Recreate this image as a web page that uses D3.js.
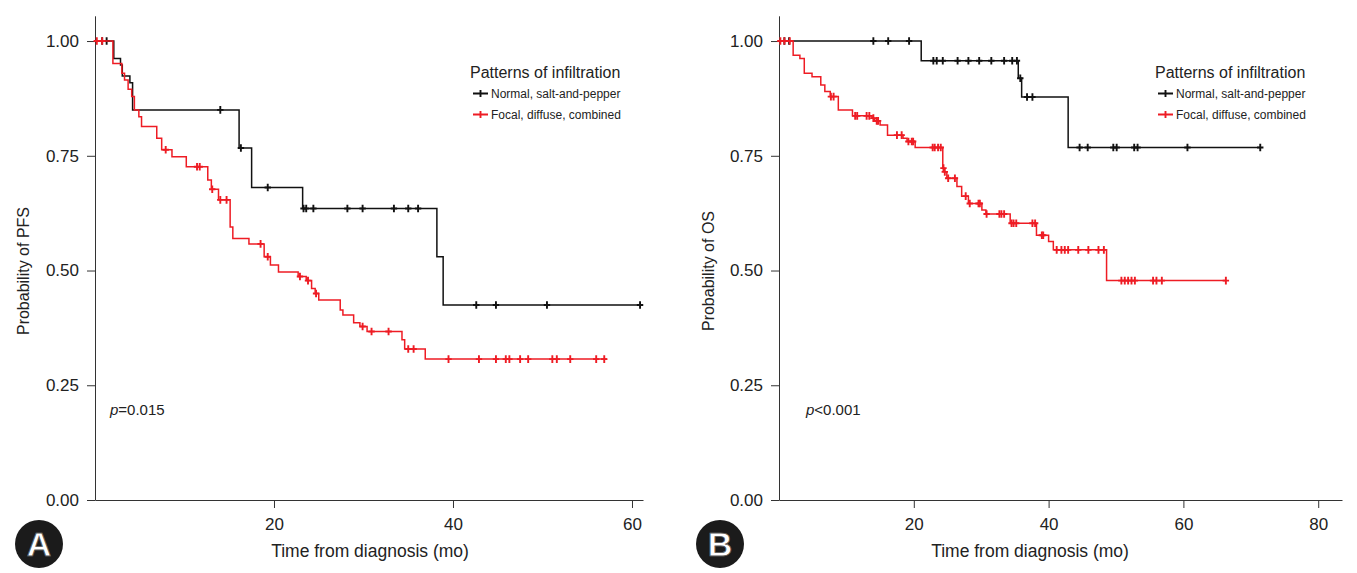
<!DOCTYPE html>
<html>
<head>
<meta charset="utf-8">
<script src="https://cdn.jsdelivr.net/npm/d3@7"></script>
<style>
body { margin: 0; background: #fff; }
svg { display: block; }
text { font-family: "Liberation Sans", Arial, sans-serif; fill: #222; }
</style>
</head>
<body>
<svg id="chart" width="1357" height="573"></svg>
<script>
"use strict";
(function() {

const BLACK = "#111111"
const RED = "#ee1c24"

// Panel A, PFS
const pfsNormalTimes = [2.1, 2.85, 3.05, 3.9, 4.2, 16.1, 17.5, 23.2, 38.2, 38.9]
const pfsNormalSurv  = [0.962, 0.948, 0.924, 0.909, 0.850, 0.767, 0.681, 0.635, 0.530, 0.425]
const pfsNormalEnd = 60.9
const pfsNormalCens = [0.8, 1.3, 14.0, 16.3, 19.3, 23.3, 23.6, 24.4, 28.2, 29.9, 33.4, 35.0, 36.1,
                       42.6, 44.8, 50.5, 60.9]

const pfsFocalTimes = [2.0, 3.0, 3.3, 3.7, 4.1, 4.4, 4.9, 5.2, 6.9, 7.45, 8.6, 10.2, 12.6, 13.0, 13.8,
                       15.1, 15.4, 17.2, 18.9, 19.6, 20.5, 22.7, 23.6, 24.2, 24.6, 25.0, 27.4, 27.7,
                       28.9, 29.6, 30.4, 34.3, 34.6, 36.9]
const pfsFocalSurv  = [0.951, 0.930, 0.915, 0.895, 0.879, 0.850, 0.835, 0.814, 0.788, 0.763, 0.748,
                       0.726, 0.697, 0.677, 0.654, 0.595, 0.570, 0.558, 0.530, 0.512, 0.497, 0.487,
                       0.478, 0.461, 0.450, 0.436, 0.414, 0.403, 0.386, 0.378, 0.367, 0.349, 0.329,
                       0.307]
const pfsFocalEnd = 57.2
const pfsFocalCens = [0.2, 0.8, 7.9, 11.4, 11.7, 13.1, 14.0, 14.7, 18.5, 19.3, 22.9, 23.8, 24.7,
                      29.9, 30.9, 32.8, 35.0, 35.6, 39.5, 42.9, 44.8, 45.9, 46.3, 47.5, 48.4, 51.1,
                      51.6, 53.1, 56.0, 56.9]

// Panel B, OS
const osNormalTimes = [21.1, 35.5, 36.0, 42.9]
const osNormalSurv  = [0.957, 0.919, 0.878, 0.768]
const osNormalEnd = 71.4
const osNormalCens = [0.8, 1.5, 14.0, 16.2, 19.3, 22.9, 23.4, 24.3, 26.5, 28.1, 29.7, 31.5, 33.4,
                      34.6, 35.3, 35.8, 36.8, 37.6, 44.6, 45.8, 49.6, 50.1, 52.7, 53.2, 60.6, 71.4]

const osFocalTimes = [2.1, 3.1, 3.75, 4.9, 6.2, 6.8, 7.6, 8.8, 10.9, 13.8, 14.2, 15.0, 16.1, 18.4,
                      19.0, 20.2, 24.3, 24.5, 24.9, 26.4, 27.1, 28.1, 30.1, 30.7, 34.3, 38.2, 40.0,
                      40.7, 48.6]
const osFocalSurv  = [0.969, 0.962, 0.930, 0.922, 0.904, 0.890, 0.879, 0.850, 0.837, 0.832, 0.826,
                      0.817, 0.795, 0.788, 0.781, 0.768, 0.723, 0.715, 0.701, 0.683, 0.662, 0.646,
                      0.632, 0.623, 0.603, 0.577, 0.563, 0.545, 0.478]
const osFocalEnd = 66.3
const osFocalCens = [0.2, 0.8, 1.6, 7.7, 8.1, 11.3, 11.6, 13.0, 13.4, 14.0, 14.5, 14.7, 17.5, 18.2,
                     19.2, 19.7, 19.9, 22.8, 23.1, 23.6, 24.0, 24.4, 24.6, 25.1, 26.1, 27.7, 28.3,
                     29.6, 29.8, 30.8, 32.7, 33.0, 33.4, 34.5, 34.8, 35.2, 37.6, 38.0, 39.0, 39.2,
                     41.2, 41.9, 42.4, 42.9, 44.4, 45.9, 47.4, 48.2, 50.8, 51.3, 51.8, 52.3, 52.8,
                     55.5, 56.0, 56.8, 66.3]

const yTicks = [0, 0.25, 0.5, 0.75, 1]
const groupLabels = ["Normal, salt-and-pepper", "Focal, diffuse, combined"]
const legendTitle = "Patterns of infiltration"
const xTitle = "Time from diagnosis (mo)"

const svg = d3.select("#chart")

// survival value at time t from a step curve
function stepValue(times, surv, t) {
    let s = 1
    for (let i = 0; i < times.length; i++) {
        if (times[i] <= t + 1e-9) s = surv[i]
    }
    return s
}

function drawPanel(p) {
    let x = d3.scaleLinear().domain([0, p.xMax]).range([p.left, p.right])
    let y = d3.scaleLinear().domain([0, 1.055]).range([500, 15.8])

    let g = svg.append("g")

    g.append("g")
        .attr("transform", `translate(${p.left},0)`)
        .call(d3.axisLeft(y).tickValues(yTicks).tickFormat(d3.format(".2f"))
            .tickSize(8).tickPadding(8).tickSizeOuter(0))
        .call(a => a.selectAll("text").style("font-size", "17px"))

    g.append("g")
        .attr("transform", "translate(0,500)")
        .call(d3.axisBottom(x).tickValues(p.xTicks).tickSize(8).tickPadding(10).tickSizeOuter(0))
        .call(a => a.selectAll("text").style("font-size", "17px"))

    g.selectAll(".domain, .tick line").attr("stroke", "#333")

    g.append("text")
        .attr("transform", `translate(${p.yTitleX},271) rotate(-90)`)
        .attr("text-anchor", "middle")
        .style("font-size", "16px")
        .text(p.yTitle)

    g.append("text")
        .attr("x", p.xTitleX).attr("y", 557)
        .attr("text-anchor", "middle")
        .style("font-size", "17.5px")
        .text(xTitle)

    let line = d3.line()
        .x(d => x(d[0]))
        .y(d => y(d[1]))
        .curve(d3.curveStepAfter)

    p.series.forEach(s => {
        let pts = [[0, 1]].concat(d3.zip(s.times, s.surv), [[s.end, s.surv[s.surv.length - 1]]])
        g.append("path")
            .attr("d", line(pts))
            .attr("fill", "none")
            .attr("stroke", s.color)
            .attr("stroke-width", 1.5)

        g.append("g").selectAll("path")
            .data(s.cens)
            .join("path")
            .attr("d", t => {
                let cx = x(t), cy = y(stepValue(s.times, s.surv, t))
                return `M${cx - 3.2},${cy}H${cx + 3.2}M${cx},${cy - 3.8}V${cy + 3.8}`
            })
            .attr("stroke", s.color)
            .attr("stroke-width", 1.9)
    })

    // legend
    let lg = g.append("g").attr("transform", `translate(${p.legendX},0)`)
    lg.append("text").attr("x", 0).attr("y", 77.5).style("font-size", "16px").text(legendTitle)
    p.series.forEach((s, i) => {
        let ly = 93.5 + i * 21
        lg.append("path")
            .attr("d", `M3,${ly}H18M10.5,${ly - 3.5}V${ly + 3.5}`)
            .attr("stroke", s.color).attr("stroke-width", 1.9)
        lg.append("text").attr("x", 21).attr("y", ly + 4.3)
            .style("font-size", "12px").text(groupLabels[i])
    })

    // p value
    let pt = g.append("text").attr("x", p.pX).attr("y", 415).style("font-size", "15px")
    pt.append("tspan").style("font-style", "italic").text("p")
    pt.append("tspan").text(p.pText)

    // panel letter
    g.append("circle").attr("cx", p.badgeX).attr("cy", 544).attr("r", 24).attr("fill", "#1b1b1b")
    g.append("text")
        .attr("x", p.badgeX).attr("y", 556)
        .attr("text-anchor", "middle")
        .style("font-size", "34px").style("font-weight", "bold")
        .style("fill", "#fff")
        .attr("stroke", "#555").attr("stroke-width", 0.8)
        .text(p.letter)
}

drawPanel({
    left: 95, right: 643, xMax: 61.23, xTicks: [20, 40, 60],
    yTitle: "Probability of PFS", yTitleX: 29, xTitleX: 370,
    legendX: 470, pX: 110, pText: "=0.015", badgeX: 39, letter: "A",
    series: [
        { times: pfsNormalTimes, surv: pfsNormalSurv, end: pfsNormalEnd, cens: pfsNormalCens, color: BLACK },
        { times: pfsFocalTimes, surv: pfsFocalSurv, end: pfsFocalEnd, cens: pfsFocalCens, color: RED }
    ]
})

drawPanel({
    left: 779, right: 1342, xMax: 83.53, xTicks: [20, 40, 60, 80],
    yTitle: "Probability of OS", yTitleX: 714, xTitleX: 1030,
    legendX: 1155, pX: 806, pText: "<0.001", badgeX: 720, letter: "B",
    series: [
        { times: osNormalTimes, surv: osNormalSurv, end: osNormalEnd, cens: osNormalCens, color: BLACK },
        { times: osFocalTimes, surv: osFocalSurv, end: osFocalEnd, cens: osFocalCens, color: RED }
    ]
})

})();
</script>
</body>
</html>
